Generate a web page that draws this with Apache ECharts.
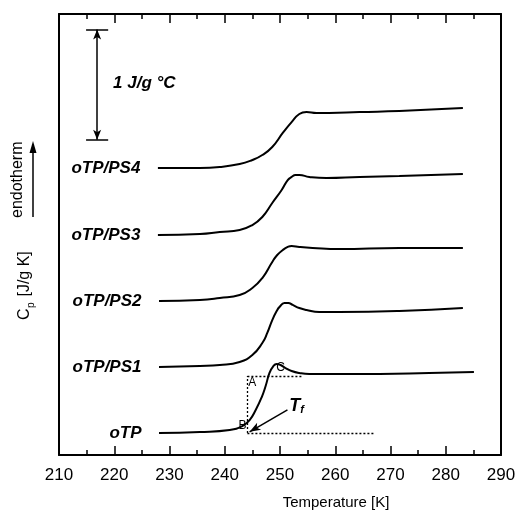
<!DOCTYPE html>
<html>
<head>
<meta charset="utf-8">
<script src="https://cdn.jsdelivr.net/npm/echarts@6/dist/echarts.min.js"></script>
<style>
  html, body { margin: 0; padding: 0; background: #fff; }
  #chart { width: 519px; height: 515px; }
</style>
</head>
<body>
<div id="chart"></div>
<script>
// Heat capacity through the glass transition of o-terphenyl and its PS blends.
// Curves are shifted vertically so they stack; values in J/g K.
const seriesNames = ['oTP', 'oTP/PS1', 'oTP/PS2', 'oTP/PS3', 'oTP/PS4'];

const oTP_T  = [228.1, 235.5, 240.9, 243.2, 244.5, 245.6, 246.7, 247.4, 248.1, 248.8, 249.4, 250.1, 251.0, 252.1, 253.5, 255.3, 258.9, 268.0, 277.0, 285.1];
const oTP_Cp = [0.200, 0.209, 0.227, 0.263, 0.317, 0.408, 0.526, 0.626, 0.744, 0.807, 0.825, 0.816, 0.789, 0.762, 0.744, 0.735, 0.735, 0.735, 0.744, 0.753];

const ps1_T  = [228.1, 235.5, 239.1, 242.7, 245.0, 246.8, 247.7, 248.6, 249.4, 249.9, 250.8, 251.5, 252.3, 253.5, 254.8, 257.1, 260.7, 271.6, 283.1];
const ps1_Cp = [0.798, 0.807, 0.816, 0.844, 0.907, 1.016, 1.107, 1.224, 1.306, 1.342, 1.379, 1.379, 1.361, 1.333, 1.315, 1.297, 1.297, 1.306, 1.333];

const ps2_T  = [228.1, 235.5, 239.1, 242.7, 245.0, 246.8, 248.6, 249.5, 250.5, 251.4, 252.1, 253.5, 255.9, 260.7, 271.6, 283.1];
const ps2_Cp = [1.397, 1.406, 1.424, 1.451, 1.515, 1.605, 1.751, 1.814, 1.859, 1.887, 1.896, 1.887, 1.878, 1.868, 1.878, 1.878];

const ps3_T  = [227.9, 235.5, 239.1, 242.7, 245.0, 246.8, 248.6, 250.3, 251.4, 252.1, 252.8, 253.5, 255.3, 258.4, 264.4, 271.6, 283.1];
const ps3_Cp = [1.995, 2.005, 2.023, 2.041, 2.086, 2.159, 2.286, 2.404, 2.494, 2.522, 2.540, 2.540, 2.522, 2.512, 2.522, 2.531, 2.549];

const ps4_T  = [227.9, 235.5, 239.1, 242.7, 245.0, 246.8, 248.6, 250.5, 252.1, 253.5, 254.8, 256.6, 258.9, 264.4, 271.6, 283.1];
const ps4_Cp = [2.603, 2.603, 2.612, 2.639, 2.676, 2.721, 2.794, 2.921, 3.020, 3.093, 3.111, 3.102, 3.102, 3.111, 3.120, 3.147];

// Construction for the fictive temperature on the oTP curve
const glassLevel = 0.20;    // extrapolated glass baseline
const liquidLevel = 0.717;  // extrapolated liquid baseline
const constructT = 244.1;   // left edge of the area construction
const glassLineEnd = 267.0;
const liquidLineEnd = 254.0;
const tfArrowFrom = [251.35, 0.41];
const tfArrowTo = [244.5, 0.21];
const letterMarks = [
  { text: 'A', at: [245.0, 0.653] },
  { text: 'B', at: [243.2, 0.27] },
  { text: 'C', at: [250.1, 0.79] }
];
const tfLabelAt = [253.0, 0.445];

// Scale bar: 1 J/g °C
const barT = 216.9;
const barLow = 2.86;
const barSize = 1.0;
const barLabelAt = [219.7, 3.375];

const FONT = '"Liberation Sans", Arial, Helvetica, sans-serif';
const black = '#000';
const hidden = { color: 'rgba(0,0,0,0)', opacity: 1 };

const pairs = (xs, ys) => xs.map((x, i) => [x, ys[i]]);
const curves = [
  pairs(oTP_T, oTP_Cp),
  pairs(ps1_T, ps1_Cp),
  pairs(ps2_T, ps2_Cp),
  pairs(ps3_T, ps3_Cp),
  pairs(ps4_T, ps4_Cp)
];

const chart = echarts.init(document.getElementById('chart'), null, { renderer: 'canvas' });

const curveSeries = curves.map((d, i) => ({
  name: seriesNames[i],
  type: 'line',
  data: d,
  smooth: 0.5,
  showSymbol: false,
  symbol: 'none',
  lineStyle: { color: black, width: 2 },
  z: 3,
  animation: false
}));

// Sample names placed just left of each curve's first point
const nameLabels = {
  type: 'scatter',
  symbolSize: 1,
  itemStyle: hidden,
  animation: false,
  silent: true,
  data: curves.map((d, i) => ({
    value: d[0],
    label: {
      show: true,
      position: 'left',
      distance: 17,
      formatter: seriesNames[i],
      color: black,
      opacity: 1,
      fontFamily: FONT,
      fontSize: 17,
      fontWeight: 'bold',
      fontStyle: 'italic'
    }
  }))
};

const annotationText = {
  type: 'scatter',
  symbolSize: 1,
  itemStyle: hidden,
  animation: false,
  silent: true,
  data: letterMarks.map(m => ({
    value: m.at,
    label: {
      show: true, position: 'inside', formatter: m.text, opacity: 1,
      color: black, fontFamily: FONT, fontSize: 12
    }
  })).concat([
    {
      value: tfLabelAt,
      label: {
        show: true, position: 'inside', formatter: '{t|T}{f|f}', opacity: 1,
        rich: {
          t: { fontFamily: FONT, fontSize: 18, fontWeight: 'bold', fontStyle: 'italic', color: black },
          f: { fontFamily: FONT, fontSize: 11, fontWeight: 'bold', fontStyle: 'italic', color: black, verticalAlign: 'bottom', padding: [8, 0, 0, 0] }
        }
      }
    },
    {
      value: barLabelAt,
      label: {
        show: true, position: 'right', distance: 0, formatter: '1 J/g \u00B0C', opacity: 1,
        color: black, fontFamily: FONT, fontSize: 17, fontWeight: 'bold', fontStyle: 'italic'
      }
    }
  ]),
  markLine: {
    silent: true,
    animation: false,
    symbol: ['none', 'none'],
    label: { show: false },
    lineStyle: { color: black, width: 1.5, type: 'solid', opacity: 1 },
    data: [
      // scale bar with arrowheads and end caps
      [
        { coord: [barT, barLow], symbol: 'arrow', symbolSize: [6, 10] },
        { coord: [barT, barLow + barSize], symbol: 'arrow', symbolSize: [6, 10] }
      ],
      [{ coord: [barT - 2, barLow] }, { coord: [barT + 2, barLow] }],
      [{ coord: [barT - 2, barLow + barSize] }, { coord: [barT + 2, barLow + barSize] }],
      // arrow pointing to T_f
      [
        { coord: tfArrowFrom, symbol: 'none' },
        { coord: tfArrowTo, symbol: 'arrow', symbolSize: [6, 11] }
      ],
      // dotted construction lines
      [
        { coord: [constructT, glassLevel], lineStyle: { type: [2, 2], width: 1.3 } },
        { coord: [glassLineEnd, glassLevel] }
      ],
      [
        { coord: [constructT, glassLevel], lineStyle: { type: [2, 2], width: 1.3 } },
        { coord: [constructT, liquidLevel] }
      ],
      [
        { coord: [constructT, liquidLevel], lineStyle: { type: [2, 2], width: 1.3 } },
        { coord: [liquidLineEnd, liquidLevel] }
      ]
    ]
  }
};

const tickAxis = (pos, labels) => ({
  type: 'value',
  position: pos,
  min: 210,
  max: 290,
  interval: 10,
  axisLine: { show: true, onZero: false, lineStyle: { color: black, width: 2 } },
  axisTick: { show: true, inside: true, length: 9, lineStyle: { color: black, width: 1.5 } },
  minorTick: { show: true, splitNumber: 2, length: 5, lineStyle: { color: black, width: 1.5 } },
  axisLabel: { show: labels, color: black, fontSize: 17, margin: 12, fontFamily: FONT },
  splitLine: { show: false },
  minorSplitLine: { show: false }
});

const plainAxis = (pos) => ({
  type: 'value',
  position: pos,
  min: 0,
  max: 4,
  axisLine: { show: true, onZero: false, lineStyle: { color: black, width: 2 } },
  axisTick: { show: false },
  axisLabel: { show: false },
  splitLine: { show: false }
});

chart.setOption({
  backgroundColor: '#fff',
  animation: false,
  grid: { left: 59, right: 18, top: 14, bottom: 60, containLabel: false },
  xAxis: [tickAxis('bottom', true), tickAxis('top', false)],
  yAxis: [plainAxis('left'), plainAxis('right')],
  series: curveSeries.concat([nameLabels, annotationText]),
  graphic: [
    { type: 'text', x: 336, y: 503, style: { text: 'Temperature [K]', fill: black, font: '15px ' + FONT, textAlign: 'center', textVerticalAlign: 'middle' } },
    // vertical axis title: C_p [J/g K]
    { type: 'text', x: 25, y: 320, rotation: Math.PI / 2, style: { text: 'C', fill: black, font: '16px ' + FONT, textAlign: 'left', textVerticalAlign: 'middle' } },
    { type: 'text', x: 31, y: 308, rotation: Math.PI / 2, style: { text: 'p', fill: black, font: '10px ' + FONT, textAlign: 'left', textVerticalAlign: 'middle' } },
    { type: 'text', x: 25, y: 301, rotation: Math.PI / 2, style: { text: ' [J/g K]', fill: black, font: '16px ' + FONT, textAlign: 'left', textVerticalAlign: 'middle' } },
    { type: 'text', x: 18, y: 218, rotation: Math.PI / 2, style: { text: 'endotherm', fill: black, font: '16px ' + FONT, textAlign: 'left', textVerticalAlign: 'middle' } },
    { type: 'line', shape: { x1: 33, y1: 217, x2: 33, y2: 150 }, style: { stroke: black, lineWidth: 1.5 } },
    { type: 'polygon', shape: { points: [[33, 141], [29.5, 153], [36.5, 153]] }, style: { fill: black } }
  ]
});
</script>
</body>
</html>
